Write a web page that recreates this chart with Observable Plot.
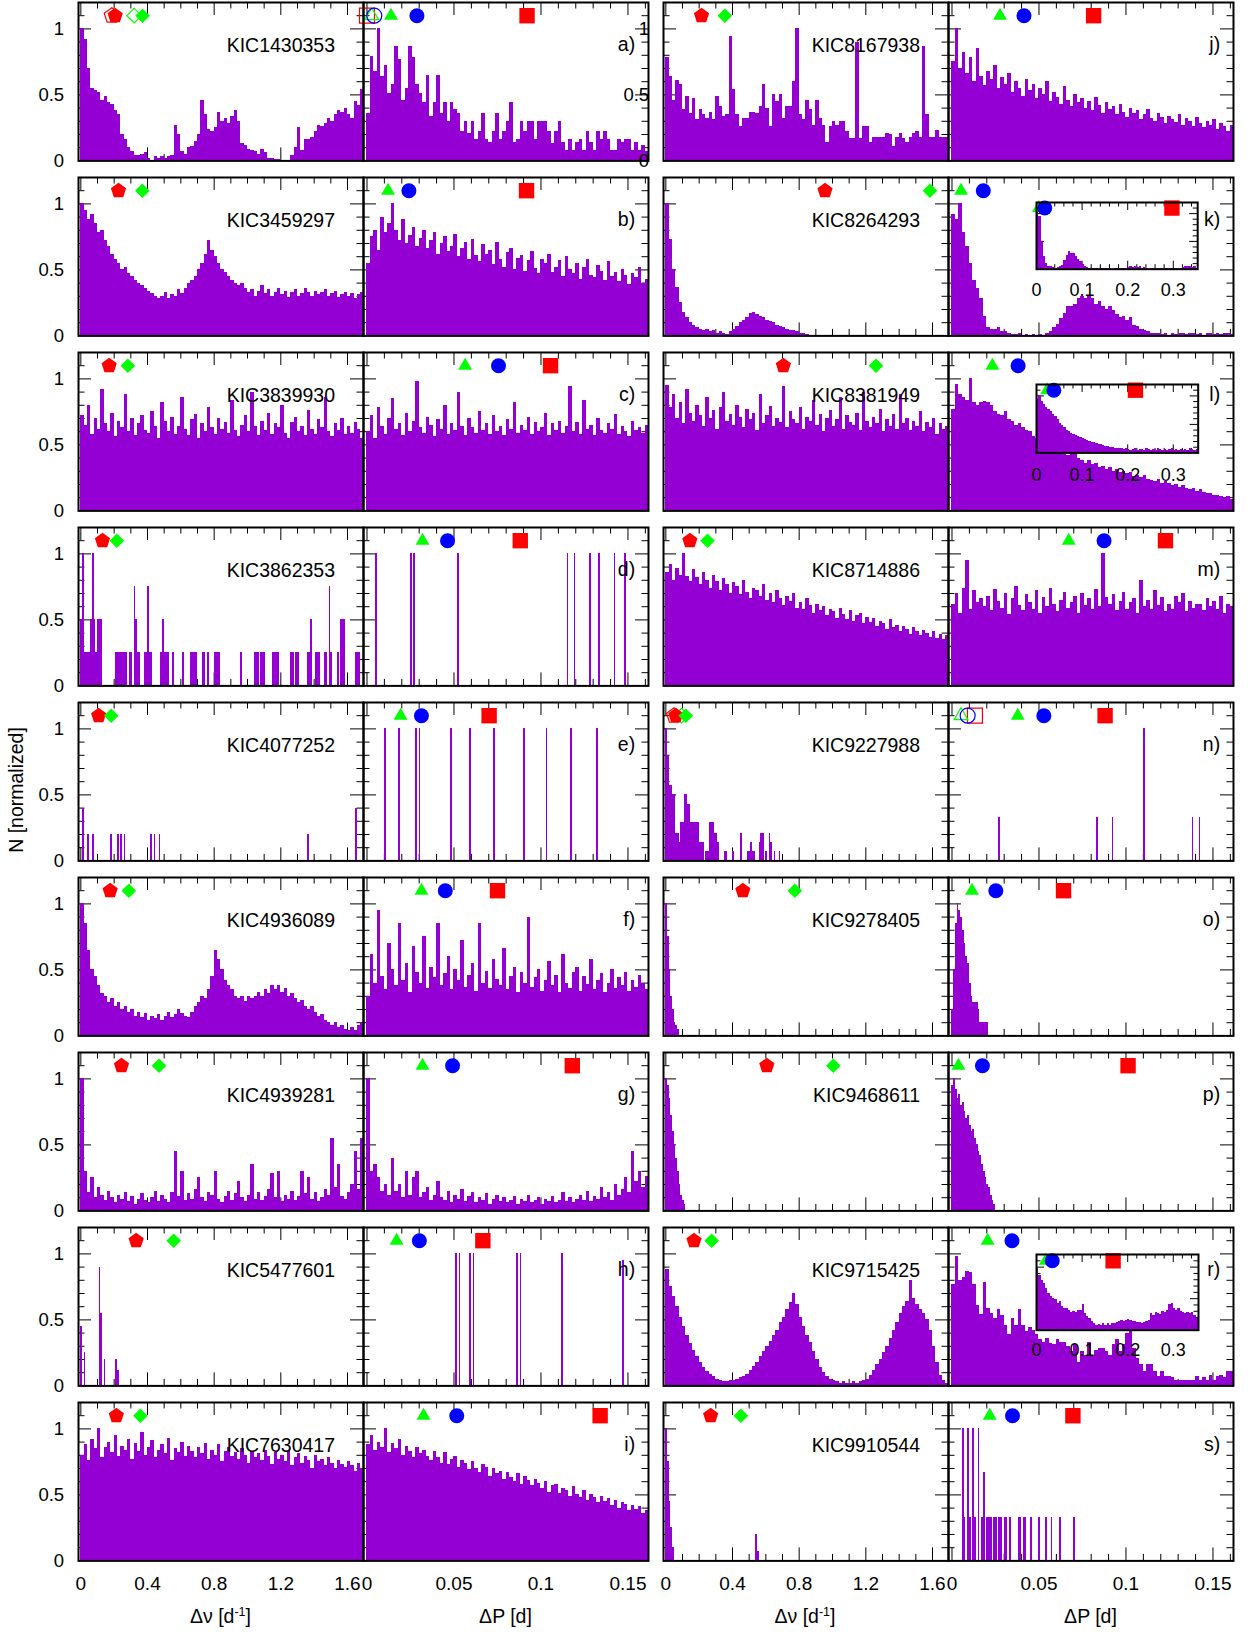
<!DOCTYPE html>
<html>
<head>
<meta charset="utf-8">
<title>Δν and ΔP histograms</title>
<script src="https://cdn.jsdelivr.net/npm/d3@7"></script>
<script src="https://cdn.jsdelivr.net/npm/@observablehq/plot@0.6"></script>
<style>
  html, body { margin: 0; padding: 0; background: #fff; }
  #figure { position: relative; width: 1254px; height: 1632px; overflow: hidden;
            font-family: "Liberation Sans", Arial, Helvetica, sans-serif; color: #000; }
  .title { position: absolute; transform: translate(-50%, -50%); white-space: nowrap; font-size: 19.5px; }
  .title sup { font-size: 12.5px; vertical-align: 0.55em; line-height: 0; }
  .ytitle { transform: translate(-50%, -50%) rotate(-90deg); }
</style>
</head>
<body>
<div id="figure"></div>
<script>
// ---------- stars and panel letters ----------
const stars = ["KIC1430353","KIC3459297","KIC3839930","KIC3862353","KIC4077252","KIC4936089","KIC4939281","KIC5477601","KIC7630417",
               "KIC8167938","KIC8264293","KIC8381949","KIC8714886","KIC9227988","KIC9278405","KIC9468611","KIC9715425","KIC9910544"];
const letters = ["a)","b)","c)","d)","e)","f)","g)","h)","i)","j)","k)","l)","m)","n)","o)","p)","r)","s)"];

// ---------- Δν histograms (normalized counts in %, plain lists start at 0) ----------
const nuA = [100,92,70,55,53,52,46,49,44,43,38,35,20,16,10,7,4,4,5,6,2,0,3,2,3,2,3,4,27,20,7,5,10,11,15,20,46,35,24,22,25,37,30,32,28,34,38,30,13,12,9,8,7,5,9,6,2,2,1,1,0,0,0,4,10,25,8,16,16,18,22,27,26,28,32,30,35,38,37,40,35,32,45,42,54];
const nuB = [100,95,88,92,85,78,80,72,68,62,58,55,50,52,47,45,42,40,38,36,34,32,30,28,30,33,28,31,30,35,32,36,40,42,45,50,55,62,72,65,60,55,50,48,45,42,40,38,40,36,33,35,30,34,38,32,35,30,33,36,31,34,29,33,35,30,32,36,33,30,34,31,33,35,30,32,34,29,31,33,30,32,28,31,33];
const nuC = [72,65,80,58,70,62,92,66,60,74,56,68,63,88,60,70,57,66,72,61,59,75,64,55,82,68,60,71,58,64,86,62,57,69,73,55,66,60,78,63,58,70,62,67,59,84,61,56,65,72,60,90,64,57,68,61,74,58,66,63,80,59,55,67,71,60,64,57,76,62,58,69,63,86,60,56,66,61,70,58,64,59,67,62,55];
const nuD = [[0,50],[0.01,100],[0.02,25],[0.03,25],[0.04,25],[0.05,25],[0.06,50],[0.07,100],[0.08,50],[0.09,25],[0.1,50],[0.11,50],[0.12,50],
  [0.21,25],[0.22,25],[0.23,25],[0.24,25],[0.25,25],[0.26,25],[0.27,25],[0.29,25],[0.3,25],[0.32,75],[0.33,50],[0.34,25],[0.35,25],
  [0.38,25],[0.39,25],[0.4,75],[0.41,25],[0.42,25],[0.48,25],[0.49,50],[0.5,25],[0.51,25],[0.52,25],[0.55,25],[0.61,25],[0.66,25],
  [0.67,25],[0.68,25],[0.69,25],[0.73,25],[0.74,25],[0.76,25],[0.8,25],[0.81,25],[0.82,25],[0.83,25],[0.96,25],[1.04,25],[1.05,25],
  [1.06,25],[1.08,25],[1.09,25],[1.1,25],[1.15,25],[1.16,25],[1.17,25],[1.18,25],[1.26,25],[1.27,25],[1.29,25],[1.3,25],[1.36,25],
  [1.37,25],[1.38,50],[1.41,25],[1.42,25],[1.43,25],[1.46,25],[1.47,25],[1.49,75],[1.5,25],[1.54,25],[1.56,50],[1.57,50],[1.58,50],
  [1.65,25],[1.66,25],[1.67,25]];
const nuE = [[0.01,40],[0.04,20],[0.07,20],[0.18,20],[0.22,20],[0.24,20],[0.26,20],[0.42,20],[0.44,20],[0.47,20],[1.36,20],[1.65,40]];
const nuF = [100,85,65,50,45,38,32,30,25,28,22,25,20,22,18,20,15,18,14,17,12,15,13,16,12,15,18,14,16,20,17,15,14,18,22,25,30,28,35,45,65,58,50,42,38,35,30,28,30,26,30,28,30,33,30,35,32,38,35,38,33,36,30,32,28,25,27,22,20,22,18,15,16,12,10,8,10,6,8,5,4,6,4,8,10];
const nuG = [100,30,14,25,10,18,12,8,15,10,6,12,9,14,7,11,5,9,13,8,6,10,15,7,12,9,6,14,45,11,30,8,13,9,16,25,10,7,14,12,30,9,6,11,15,8,13,22,10,7,12,35,9,14,8,11,16,28,10,30,7,12,9,15,8,11,30,13,25,9,14,7,10,16,12,55,18,35,11,9,14,20,45,16,55];
const nuH = [[0,45],[0.02,25],[0.11,90],[0.12,55],[0.14,20],[0.21,20],[0.22,12]];
const nuI = [80,88,76,92,85,100,78,86,90,82,95,79,87,84,92,77,89,83,97,80,86,91,78,84,88,81,93,76,85,82,90,79,87,83,78,86,81,89,77,84,80,88,75,83,86,79,82,77,85,80,74,83,78,81,76,84,79,73,82,77,80,75,83,72,78,81,74,79,76,70,80,75,77,72,78,74,70,76,73,71,75,72,68,74,70];
const nuJ = [78,64,46,61,58,39,49,36,47,31,39,35,32,37,31,49,41,34,35,94,54,35,26,32,32,37,37,36,41,58,40,26,50,45,50,32,41,41,60,100,35,31,46,39,27,46,32,27,14,26,30,27,30,30,22,17,17,90,17,26,26,14,18,18,18,18,21,20,11,18,21,17,14,18,21,22,18,87,35,18,18,23,18,18,18];
const nuK = [100,73,50,37,25,18,14,10,8,6,5,4,5,3,4,2,3,2,1,3,5,7,10,12,14,17,18,16,15,14,12,11,10,8,7,6,5,4,4,3,2,2,1];
const nuL = [95,78,88,70,82,66,92,74,68,80,72,64,86,70,76,62,78,90,68,73,65,80,71,63,77,69,74,61,88,66,72,79,64,70,67,94,63,75,69,66,78,62,71,68,84,65,73,60,70,76,64,69,86,62,72,67,65,74,61,90,68,63,71,66,77,60,69,64,73,62,88,66,70,61,68,64,75,60,67,63,70,58,66,62,64];
const nuM = [86,92,80,89,84,100,83,79,88,82,77,86,80,74,84,79,72,81,77,70,78,75,69,80,71,66,74,72,68,77,65,70,63,72,66,61,68,64,70,59,63,58,66,61,55,62,57,60,53,58,56,51,59,54,50,57,49,53,55,47,52,48,51,45,49,47,43,50,44,46,41,45,43,39,44,41,38,42,40,37,41,36,39,35,38];
const nuN = [[0,100],[0.01,79],[0.02,57],[0.03,57],[0.04,50],[0.05,50],[0.06,21],[0.07,21],[0.08,14],[0.09,29],[0.1,29],[0.11,50],[0.12,50],
  [0.13,43],[0.14,43],[0.15,29],[0.16,29],[0.17,29],[0.18,29],[0.19,29],[0.2,14],[0.21,14],[0.22,14],[0.24,7],[0.25,7],[0.26,29],[0.27,29],
  [0.28,29],[0.29,21],[0.3,21],[0.31,14],[0.35,7],[0.36,7],[0.4,7],[0.45,21],[0.49,7],[0.5,7],[0.51,14],[0.52,7],[0.53,7],[0.56,14],
  [0.57,21],[0.58,21],[0.6,7],[0.62,21],[0.63,14],[0.65,7],[0.68,7]];
const nuO = [100,75,50,30,20,10,8,5];
const nuP = [100,95,85,72,60,50,40,30,20,12,8,5];
const nuR = [88,75,68,60,52,45,38,32,27,22,18,14,11,9,7,5,4,3,3,4,4,5,6,7,9,12,15,18,22,26,30,34,38,42,48,52,58,63,70,62,52,45,38,33,26,20,14,10,7,5,4,3,2,3,2,2,3,2,3,4,5,8,12,16,20,25,30,36,42,48,55,60,64,80,66,62,58,55,50,42,30,18,8,4,2];
const nuS = [[0,100],[0.01,75],[0.02,45],[0.03,25],[0.04,10],[0.54,20],[0.55,7]];

// ---------- ΔP histograms (normalized counts in %) ----------
const pA = [36,79,68,100,64,72,51,58,87,77,46,55,87,78,58,51,44,65,34,44,65,36,44,30,44,39,36,22,30,21,30,16,22,36,16,14,22,36,16,22,30,44,14,16,30,22,30,30,16,30,30,30,22,13,22,30,14,8,16,8,14,16,8,22,14,8,22,16,22,16,8,8,16,14,16,16,8,14,8,12,7];
const pB = [55,75,80,65,90,78,85,100,80,72,88,70,76,82,68,74,80,66,72,78,62,70,75,64,68,77,60,66,71,58,73,61,56,69,62,65,54,71,58,52,63,66,50,59,61,49,57,64,51,47,58,55,62,48,52,57,45,60,50,47,55,43,52,58,46,44,53,49,42,56,45,48,41,50,46,39,47,44,52,40,43];
const pC = [60,72,55,78,64,58,70,85,62,66,57,74,60,68,98,63,59,71,65,56,69,62,80,58,66,61,90,64,57,70,63,59,75,61,66,58,72,60,64,57,69,62,82,59,65,61,71,58,67,60,63,74,57,66,61,68,59,64,94,60,67,58,84,62,65,57,70,61,59,66,62,73,58,64,60,56,68,61,63,59,65];
const pD = [[0.005,100],[0.025,100],[0.027,100],[0.052,100],[0.115,100],[0.119,100],[0.128,100],[0.133,100],[0.142,100],[0.148,100]];
const pE = [[0.01,100],[0.018,100],[0.028,100],[0.03,100],[0.048,100],[0.059,100],[0.073,100],[0.09,100],[0.103,100],[0.117,100],[0.132,100]];
const pF = [30,62,40,95,45,35,70,50,38,85,42,55,33,68,48,40,75,36,52,44,85,38,47,60,35,50,42,72,37,46,55,34,85,40,49,36,58,43,38,66,35,45,52,33,48,40,90,37,44,50,34,42,56,38,46,33,62,40,36,48,52,34,45,39,58,35,42,47,33,40,50,36,44,38,48,34,42,37,46,40,35];
const pG = [100,30,35,25,15,20,12,40,15,20,10,30,12,25,30,10,14,18,8,12,22,10,8,15,6,12,9,16,7,11,14,6,10,8,13,5,9,12,7,10,6,8,11,5,9,7,12,6,8,10,5,9,7,11,6,8,14,7,10,6,9,12,8,15,7,11,9,18,10,14,8,20,12,16,25,14,45,22,30,18,26];
const pH = [[0.051,100],[0.053,100],[0.059,100],[0.061,100],[0.086,100],[0.088,100],[0.112,100],[0.147,95]];
const pI = [88,95,84,90,86,100,82,89,85,92,80,87,83,78,86,81,84,79,76,83,78,74,82,73,77,79,71,76,74,69,75,70,67,73,71,64,70,66,68,62,67,63,60,66,58,64,61,57,62,59,55,60,52,57,58,51,55,53,49,56,50,48,53,46,50,48,44,49,45,47,42,46,40,44,43,38,42,39,41,36,38];
const pJ = [75,100,70,82,66,78,60,85,64,57,68,62,72,55,63,58,66,52,60,55,49,62,53,58,47,55,50,60,45,52,48,43,56,46,41,50,44,47,40,45,38,48,42,36,44,39,41,35,43,37,33,40,36,38,31,35,39,32,30,36,33,28,34,31,29,35,27,32,30,26,33,28,25,30,27,31,24,28,26,22,27];
const pK = [92,88,100,78,68,55,42,36,28,15,6,5,5,6,3,3,2,1,1,2,0,1,0,1,0,1,0,2,3,6,9,13,17,22,22,24,28,30,28,30,28,24,26,22,20,22,19,16,14,15,12,14,8,7,5,4,3,2,2,2,1,2,0,2,1,2,2,1,2,2,1,2,0,2,2,1,2,1,2,2,1];
const pL = [77,96,88,86,84,100,82,80,82,83,82,80,75,73,72,75,69,68,65,66,63,61,60,56,55,52,50,50,48,47,45,44,43,42,44,46,40,38,36,38,35,36,33,34,31,33,30,31,29,30,28,29,26,27,25,27,24,23,22,24,21,22,21,19,20,18,19,17,16,17,15,16,14,13,13,12,12,11,10,11,9];
const pM = [62,70,55,74,95,58,72,63,66,60,68,57,73,64,59,70,54,66,75,61,57,69,63,58,72,55,67,60,74,62,56,65,71,59,63,68,55,70,61,66,58,73,60,100,67,62,69,57,64,71,58,63,66,55,80,60,65,58,72,61,67,56,62,58,68,63,70,56,64,59,62,62,57,66,60,64,58,68,55,62,60];
const pN = [[0.027,33],[0.083,33],[0.092,33],[0.11,100],[0.138,33],[0.142,33]];
const pO = [20,50,85,100,95,90,80,70,60,55,40,30,25,25,25,20,10,10,10,10,10];
const pP = [95,100,92,85,88,80,82,75,70,72,65,60,62,55,50,45,42,35,30,25,20,18,12,8,5];
const pR = [77,98,80,82,87,86,77,61,54,78,59,55,51,58,53,46,39,51,46,58,46,41,44,42,39,35,33,36,32,31,35,33,33,30,26,31,18,26,23,33,22,27,28,28,26,23,31,35,26,31,40,41,28,21,16,11,16,16,11,7,11,7,7,6,4,4,4,4,4,4,7,4,6,4,8,4,7,8,6,11,11];
const pS = [[0.006,100],[0.007,33],[0.009,100],[0.01,33],[0.012,100],[0.013,33],[0.015,100],[0.017,33],[0.018,67],[0.02,33],[0.021,33],
  [0.022,33],[0.024,33],[0.025,33],[0.027,33],[0.028,33],[0.03,33],[0.031,33],[0.033,33],[0.038,33],[0.039,33],[0.041,33],[0.042,33],
  [0.045,33],[0.05,33],[0.054,33],[0.057,33],[0.062,33],[0.07,33]];

// wide-range ΔP histograms shown in the insets of k), l) and r) (bin 0.005 d)
const insetK = [120,94,49,22,10,5,4,3,2,3,5,7,16,25,31,29,28,23,17,13,9,5,3,2,2,1,2,1,2,1,1,2,1,0,1,2,1,1,2,1,3,4,3,4,3,4,2,3,2,1,2,1,1,2,1,1,2,1,2,1,1,2,1,1,3,5,4,5,3,4,2];
const insetL = [95,100,90,85,80,76,72,68,63,58,52,48,44,40,37,34,32,30,28,27,25,23,22,20,19,18,16,15,14,13,12,11,10,9,8,8,7,7,6,7,6,5,6,7,5,6,6,5,7,6,5,6,5,7,6,5,6,5,6,7,5,6,5,6,5,6,5,7,6,5,6];
const insetR = [98,87,79,74,66,58,53,50,48,42,45,37,34,34,32,28,29,28,32,32,40,26,21,19,13,10,8,9,8,10,8,10,8,11,11,12,13,16,13,16,17,16,14,13,12,12,11,12,13,16,26,24,28,26,25,29,28,32,40,42,34,32,34,30,28,26,28,26,28,24,19];

const nuHist = [nuA,nuB,nuC,nuD,nuE,nuF,nuG,nuH,nuI,nuJ,nuK,nuL,nuM,nuN,nuO,nuP,nuR,nuS];
const pHist  = [pA,pB,pC,pD,pE,pF,pG,pH,pI,pJ,pK,pL,pM,pN,pO,pP,pR,pS];
const nuStep = [0.02,0.02,0.02,0.01,0.01,0.02,0.02,0.01,0.02,0.02,0.02,0.02,0.02,0.01,0.01,0.01,0.02,0.01];
const pStep  = [0.002,0.002,0.002,0.001,0.001,0.002,0.002,0.001,0.002,0.002,0.002,0.002,0.002,0.001,0.001,0.001,0.002,0.001];

// ---------- reference markers (Δν in d^-1, ΔP in d) ----------
const nuPentagon = [0.206,0.226,0.17,0.13,0.107,0.176,0.244,0.332,0.213,0.214,0.955,0.705,0.144,0.06,0.462,0.606,0.169,0.269];
const nuDiamond  = [0.37,0.369,0.282,0.216,0.182,0.288,0.469,0.557,0.357,0.354,1.585,1.261,0.25,0.12,0.774,1.005,0.275,0.45];
const pTriangle  = [0.0138,0.0121,0.0564,0.0319,0.0193,0.0313,0.0319,0.017,0.0325,0.0276,0.0052,0.0232,0.0671,0.0378,0.0115,0.0037,0.0205,0.0217];
const pCircle    = [0.0287,0.0241,0.0756,0.0463,0.0313,0.045,0.0492,0.0301,0.0516,0.0414,0.018,0.038,0.0874,0.0528,0.0252,0.0175,0.0345,0.0348];
const pSquare    = [0.092,0.0917,0.1055,0.0881,0.0702,0.075,0.118,0.0666,0.134,0.0814,0.297,0.217,0.1227,0.088,0.0641,0.1012,0.168,0.0695];
// open markers: [star index, pentagon, diamond] and [star index, triangle, circle, square]
const nuHollow = [[0,0.186,0.32],[13,0.05,0.094]];
const pHollow  = [[0,0.0027,0.0042,0.0],[13,0.0052,0.009,0.0132]];

// ---------- axes ----------
const nuTickLabels = [0,0.4,0.8,1.2,1.6];
const pTickLabels = [0,0.05,0.1,0.15];
const insetTickLabels = [0,0.1,0.2,0.3];
const yTickLabels = [0,0.5,1];

// ---------- layout ----------
const PURPLE = "#9400d3", RED = "#ff0000", GREEN = "#00ff00", BLUE = "#0000ff";
const FONT = "'Liberation Sans', Arial, Helvetica, sans-serif";
const W = 285, H = 158.4;
const NU_DOMAIN = [-0.014, 1.696];
const P_DOMAIN = [-0.002, 0.1618];
const colNu = [78, 662.5], colP = [363, 948];
const rowTop = r => 2.3 + 175 * r;
const insetStars = [10, 11, 16];
const insetHist = [insetK, insetL, insetR];
const insetBox = [[1035.5, 202.3, 161.2, 66.7, 21], [1035.5, 384.3, 161.7, 68.4, 21.6], [1035.5, 1254.3, 162, 75.7, 20]];

const round = v => Math.round(v * 1e6) / 1e6;
const seq = (start, stop, step) => d3.range(Math.round((stop - start) / step) + 1).map(i => round(start + i * step));
const tickSet = (values, majors, majorLen, minorLen) =>
  values.map(v => ({v, len: majors.some(m => Math.abs(m - v) < 1e-9) ? majorLen : minorLen}));

// marker symbols; r is the circumscribed radius
const rad = size => Math.sqrt(size / Math.PI);
const pentagon = {draw(c, size) { const r = rad(size);
  for (let i = 0; i < 5; ++i) { const a = -Math.PI / 2 + i * 2 * Math.PI / 5; const px = r * Math.cos(a), py = r * Math.sin(a);
    if (i) c.lineTo(px, py); else c.moveTo(px, py); } c.closePath(); }};
const diamond = {draw(c, size) { const r = rad(size); c.moveTo(0, -r); c.lineTo(r, 0); c.lineTo(0, r); c.lineTo(-r, 0); c.closePath(); }};
const triangle = {draw(c, size) { const r = rad(size); c.moveTo(0, -r); c.lineTo(r * 0.866, r / 2); c.lineTo(-r * 0.866, r / 2); c.closePath(); }};
const square = {draw(c, size) { const r = rad(size); c.rect(-r, -r, 2 * r, 2 * r); }};

function toBins(values, step) {
  return values.map((v, i) => Array.isArray(v)
      ? {x1: v[0], x2: v[0] + step, h: v[1] / 100}
      : {x1: i * step, x2: (i + 1) * step, h: v / 100})
    .filter(d => d.h > 0);
}

function markerDot(x, symbol, r, color, filled) {
  return Plot.dot([x], {x: d => d, y: () => 1.1, symbol, r,
    fill: filled ? color : "none", stroke: filled ? "none" : color, strokeWidth: 1.2});
}

function nuMarkers(s, domain) {
  const ok = x => x >= domain[0] && x <= domain[1];
  const out = [];
  for (const [k, xp, xd] of nuHollow) if (k === s) {
    if (ok(xp)) out.push(markerDot(xp, pentagon, 8, RED, false));
    if (ok(xd)) out.push(markerDot(xd, diamond, 7.3, GREEN, false));
  }
  if (ok(nuPentagon[s])) out.push(markerDot(nuPentagon[s], pentagon, 8, RED, true));
  if (ok(nuDiamond[s])) out.push(markerDot(nuDiamond[s], diamond, 7.3, GREEN, true));
  return out;
}

function pMarkers(s, domain) {
  const ok = x => x >= domain[0] && x <= domain[1];
  const out = [];
  for (const [k, xt, xc, xs] of pHollow) if (k === s) {
    if (ok(xs)) out.push(markerDot(xs, square, 7.5, RED, false));
    if (ok(xt)) out.push(markerDot(xt, triangle, 8, GREEN, false));
    if (ok(xc)) out.push(markerDot(xc, "circle", 7.5, BLUE, false));
  }
  if (ok(pTriangle[s])) out.push(markerDot(pTriangle[s], triangle, 8, GREEN, true));
  if (ok(pCircle[s])) out.push(markerDot(pCircle[s], "circle", 7.5, BLUE, true));
  if (ok(pSquare[s])) out.push(markerDot(pSquare[s], square, 7.7, RED, true));
  return out;
}

// one framed histogram panel with inward ticks on all four sides
function histPanel(o) {
  const mL = o.yLabels ? 80 : 4, mR = 4, mT = 4, mB = o.xLabels ? 44 : 4;
  const [x0, x1] = o.xDomain;
  const sx = (x1 - x0) / o.w, sy = 1.2 / o.h;
  const marks = [];
  if (o.background) marks.push(Plot.frame({fill: "white", stroke: "none"}));
  marks.push(
    Plot.ruleX(o.xTicks, {x: "v", y1: () => 0, y2: d => d.len * sy, stroke: "black", strokeWidth: 1}),
    Plot.ruleX(o.xTicks, {x: "v", y1: d => 1.2 - d.len * sy, y2: () => 1.2, stroke: "black", strokeWidth: 1}),
    Plot.ruleY(o.yTicks, {y: "v", x1: () => x0, x2: d => x0 + d.len * sx, stroke: "black", strokeWidth: 1}),
    Plot.ruleY(o.yTicks, {y: "v", x1: d => x1 - d.len * sx, x2: () => x1, stroke: "black", strokeWidth: 1}),
    Plot.rect(o.bins, {x1: "x1", x2: "x2", y1: () => 0, y2: "h", fill: PURPLE, clip: true, shapeRendering: "crispEdges"})
  );
  if (o.label) marks.push(Plot.text([o.label], {text: d => d, frameAnchor: "top-right", dx: -28.5, dy: 49.4,
    textAnchor: "end", lineAnchor: "bottom", fontSize: 19.5, fill: "black"}));
  if (o.letter) marks.push(Plot.text([o.letter], {text: d => d, frameAnchor: "top-right", dx: -13.3, dy: 48.5,
    textAnchor: "end", lineAnchor: "bottom", fontSize: 19.5, fill: "black"}));
  marks.push(...o.markers);
  marks.push(Plot.frame({stroke: "black", strokeWidth: 2}));
  if (o.yLabels) marks.push(Plot.axisY({ticks: o.yLabels, tickFormat: d => String(d), tickSize: 0, tickPadding: 14.4,
    fontSize: 18.5, label: null, fill: "black"}));
  if (o.xLabels) marks.push(Plot.axisX({ticks: o.xLabels, tickFormat: d => String(d), tickSize: 0, tickPadding: o.labelPad,
    fontSize: o.labelFont, label: null, fill: "black"}));
  const svg = Plot.plot({
    width: o.w + mL + mR, height: o.h + mT + mB,
    marginLeft: mL, marginRight: mR, marginTop: mT, marginBottom: mB,
    x: {domain: o.xDomain, axis: null},
    y: {domain: [0, 1.2], axis: null},
    marks
  });
  Object.assign(svg.style, {position: "absolute", left: (o.left - mL) + "px", top: (o.top - mT) + "px",
    overflow: "visible", background: "transparent", maxWidth: "none", fontFamily: FONT});
  document.getElementById("figure").appendChild(svg);
}

const yTicks = tickSet(seq(0.1, 1.1, 0.1), [0.5, 1], 13, 6.5);
const nuTicks = tickSet(seq(0, 1.6, 0.1), nuTickLabels, 13, 6.5);
const pTicks = tickSet(seq(0, 0.16, 0.01), pTickLabels, 13, 6.5);

for (let r = 0; r < 9; ++r) {
  for (let c = 0; c < 2; ++c) {
    const s = c * 9 + r;
    const bottom = r === 8;
    histPanel({
      left: colNu[c], top: rowTop(r), w: W, h: H, xDomain: NU_DOMAIN,
      bins: toBins(nuHist[s], nuStep[s]), xTicks: nuTicks, yTicks,
      markers: nuMarkers(s, NU_DOMAIN), label: stars[s],
      yLabels: (c === 0 || r === 0) ? yTickLabels : null,
      xLabels: bottom ? nuTickLabels : null, labelPad: 15.8, labelFont: 19
    });
    histPanel({
      left: colP[c], top: rowTop(r), w: W, h: H, xDomain: P_DOMAIN,
      bins: toBins(pHist[s], pStep[s]), xTicks: pTicks, yTicks,
      markers: pMarkers(s, P_DOMAIN), letter: letters[s],
      xLabels: bottom ? pTickLabels : null, labelPad: 15.8, labelFont: 19
    });
  }
}

// insets with the full ΔP range
insetStars.forEach((s, i) => {
  const [left, top, w, h, off] = insetBox[i];
  const domain = [0, w / 456];
  histPanel({
    left, top, w, h, xDomain: domain, background: true,
    bins: toBins(insetHist[i], 0.005),
    xTicks: tickSet(seq(0, 0.34, 0.02), insetTickLabels, 8, 4.5),
    yTicks: tickSet(seq(0.1, 1.1, 0.1), [0.5, 1], 8, 4.5),
    markers: pMarkers(s, domain),
    xLabels: insetTickLabels, labelPad: off - 6.5, labelFont: 18
  });
});

// axis titles
const fig = document.getElementById("figure");
function title(html, x, y, cls) {
  const d = document.createElement("div");
  d.className = "title" + (cls ? " " + cls : "");
  d.style.left = x + "px"; d.style.top = y + "px";
  d.innerHTML = html;
  fig.appendChild(d);
}
title("N [normalized]", 16, 790, "ytitle");
title("Δν [d<sup>-1</sup>]", colNu[0] + W / 2, 1616);
title("ΔP [d]", colP[0] + W / 2, 1616);
title("Δν [d<sup>-1</sup>]", colNu[1] + W / 2, 1616);
title("ΔP [d]", colP[1] + W / 2, 1616);
</script>
</body>
</html>
